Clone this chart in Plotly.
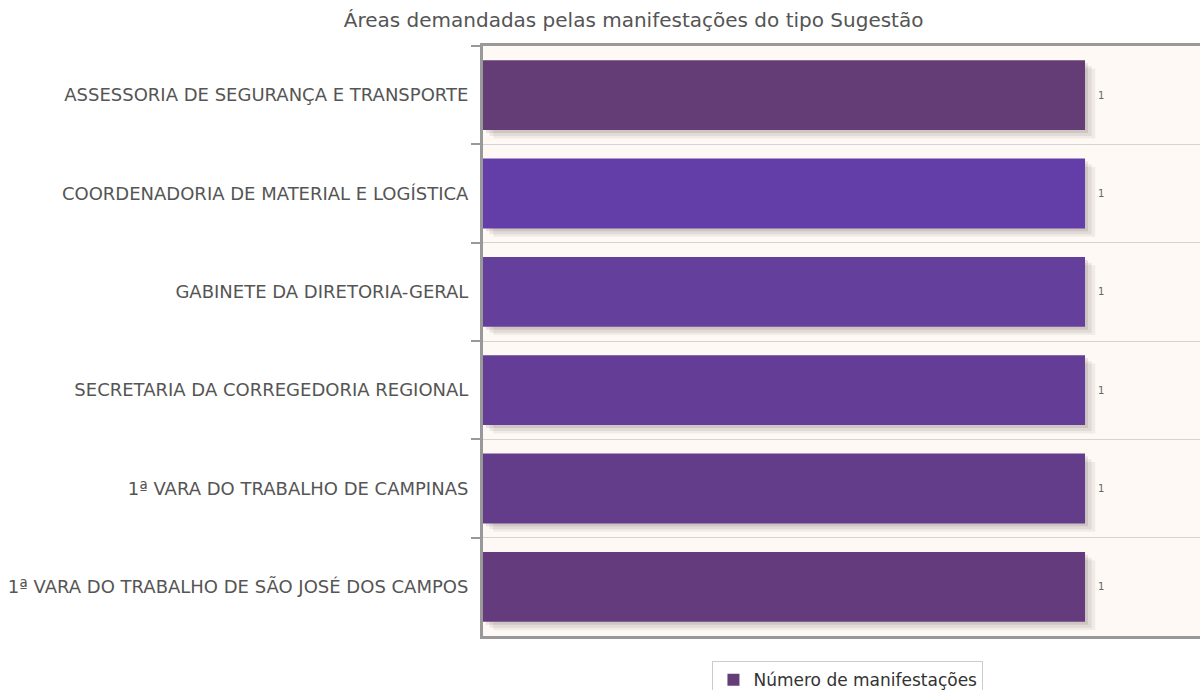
import plotly.graph_objects as go

# Areas that received "Sugestão" type manifestations
areas = [
    "ASSESSORIA DE SEGURANÇA E TRANSPORTE",
    "COORDENADORIA DE MATERIAL E LOGÍSTICA",
    "GABINETE DA DIRETORIA-GERAL",
    "SECRETARIA DA CORREGEDORIA REGIONAL",
    "1ª VARA DO TRABALHO DE CAMPINAS",
    "1ª VARA DO TRABALHO DE SÃO JOSÉ DOS CAMPOS",
]
counts = [1, 1, 1, 1, 1, 1]
bar_colors = ["#643c76", "#633ea8", "#643f9c", "#643e96", "#643d8a", "#643c7e"]

FONT = "DejaVu Sans, Verdana, sans-serif"
BAR_W = 0.71
X_MAX = 1.191

fig = go.Figure()

# soft drop shadow under each bar (layers shifted right/down)
for shift_x, shift_y, alpha in [(0.017, 0.085, 0.07), (0.011, 0.06, 0.09), (0.005, 0.03, 0.12)]:
    fig.add_trace(go.Bar(
        y=areas, x=counts, orientation="h",
        base=[shift_x] * len(counts),
        width=BAR_W, offset=-BAR_W / 2 + shift_y,
        marker=dict(color=f"rgba(70,60,50,{alpha})", line=dict(width=0)),
        hoverinfo="skip", showlegend=False,
    ))

fig.add_trace(go.Bar(
    y=areas, x=counts, orientation="h",
    width=BAR_W, offset=-BAR_W / 2,
    marker=dict(color=bar_colors, line=dict(width=0)),
    name="Número de manifestações",
    texttemplate="\u2002\u2002%{x}", textposition="outside",
    textfont=dict(family=FONT, size=10, color="#666"),
    cliponaxis=False,
))

fig.update_layout(
    width=1200, height=690,
    margin=dict(l=483, r=0, t=46, b=54, autoexpand=False),
    paper_bgcolor="white",
    plot_bgcolor="#fef9f4",
    barmode="overlay",
    title=dict(
        text="Áreas demandadas pelas manifestações do tipo Sugestão",
        x=0.528, xanchor="center", y=0.971, yanchor="middle",
        font=dict(family=FONT, size=20, color="#555"),
    ),
    font=dict(family=FONT, color="#555"),
    showlegend=True,
    legend=dict(
        orientation="h", x=0.509, xanchor="center", y=-0.075, yanchor="middle",
        bgcolor="white", bordercolor="#cccccc", borderwidth=1,
        font=dict(family=FONT, size=17, color="#333"),
        itemsizing="constant", itemwidth=30,
    ),
    xaxis=dict(
        range=[0, X_MAX], showticklabels=False, ticks="",
        showgrid=False, zeroline=False,
        showline=True, linecolor="#999", linewidth=3, mirror=True,
    ),
    yaxis=dict(
        autorange="reversed", type="category",
        tickson="boundaries", ticks="outside", ticklen=9, tickcolor="#999", tickwidth=2,
        showgrid=True, gridcolor="#d4d4d4", gridwidth=1,
        showline=True, linecolor="#999", linewidth=3,
        tickfont=dict(family=FONT, size=18, color="#555"),
        ticklabelstandoff=8,
    ),
)

fig.write_html("out.html")
